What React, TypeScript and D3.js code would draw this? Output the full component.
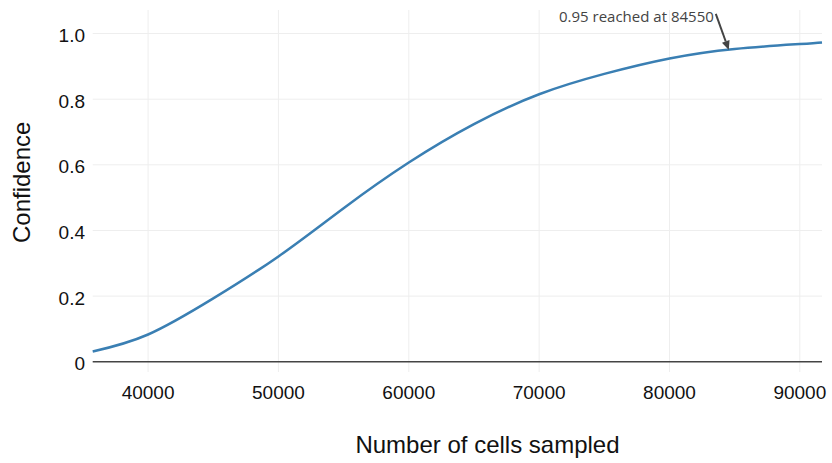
import React from "react";
import * as d3 from "d3";

const cellsSampled = [35750, 40000, 45000, 50000, 55000, 60000, 65000, 70000, 75000, 80000, 85000, 90000, 91700];
const confidence = [0.031, 0.083, 0.193, 0.321, 0.468, 0.607, 0.724, 0.815, 0.877, 0.924, 0.953, 0.968, 0.973];
const xTicks = [40000, 50000, 60000, 70000, 80000, 90000];
const yTicks = [0, 0.2, 0.4, 0.6, 0.8, 1.0];
const annotX = 84550;
const annotY = 0.95;
const annotText = "0.95 reached at 84550";

const W = 832;
const H = 463;
const left = 92.7;
const right = 822;
const top = 10;
const bottom = 372;

export default function App() {
  const x = d3.scaleLinear().domain([35750, 91700]).range([left, right]);
  const y = d3.scaleLinear().domain([-0.0312, 1.0717]).range([bottom, top]);
  const data = cellsSampled.map((c, i) => [c, confidence[i]] as [number, number]);
  const line = d3
    .line<[number, number]>()
    .x((d) => x(d[0]))
    .y((d) => y(d[1]))
    .curve(d3.curveNatural);

  const tipX = x(annotX);
  const tipY = y(annotY);
  const tailX = tipX - 13;
  const tailY = tipY - 36;
  const ang = Math.atan2(tipY - tailY, tipX - tailX);
  const hl = 9;
  const hw = 4;
  const bx = tipX - hl * Math.cos(ang);
  const by = tipY - hl * Math.sin(ang);
  const px = -Math.sin(ang);
  const py = Math.cos(ang);
  const head = `M${tipX},${tipY}L${bx + px * hw},${by + py * hw}L${bx - px * hw},${by - py * hw}Z`;

  const font = "'Liberation Sans', Arial, sans-serif";

  return (
    <svg
      width={W}
      height={H}
      style={{ position: "absolute", left: 0, top: 0, background: "#fff" }}
    >
      <g>
        {xTicks.map((t) => (
          <line key={"gx" + t} x1={x(t)} x2={x(t)} y1={top} y2={bottom} stroke="#eeeeee" strokeWidth={1} />
        ))}
        {yTicks.filter((t) => t !== 0).map((t) => (
          <line key={"gy" + t} x1={left} x2={right} y1={y(t)} y2={y(t)} stroke="#eeeeee" strokeWidth={1} />
        ))}
        <line x1={left} x2={right} y1={y(0)} y2={y(0)} stroke="#444444" strokeWidth={1.3} />
      </g>
      <path d={line(data) || ""} fill="none" stroke="#3a7fb3" strokeWidth={2.5} />
      <g fontFamily={font} fontSize={19} fill="#111">
        {yTicks.map((t) => (
          <text key={"ty" + t} x={85} y={y(t) + 8.5} textAnchor="end">
            {t === 0 ? "0" : t.toFixed(1)}
          </text>
        ))}
        {xTicks.map((t) => (
          <text key={"tx" + t} x={x(t)} y={399} textAnchor="middle">
            {String(t)}
          </text>
        ))}
      </g>
      <text x={487.5} y={453} textAnchor="middle" fontFamily={font} fontSize={24} fill="#111">
        Number of cells sampled
      </text>
      <text
        transform={`translate(29.5,182.3) rotate(-90)`}
        textAnchor="middle"
        fontFamily={font}
        fontSize={24}
        fill="#111"
      >
        Confidence
      </text>
      <line x1={tailX} y1={tailY} x2={bx} y2={by} stroke="#444" strokeWidth={2} />
      <path d={head} fill="#444" />
      <text
        x={tipX - 15}
        y={tipY - 28}
        textAnchor="end"
        fontFamily="'Open Sans', Verdana, sans-serif"
        fontSize={15}
        fill="#444"
      >
        {annotText}
      </text>
    </svg>
  );
}
